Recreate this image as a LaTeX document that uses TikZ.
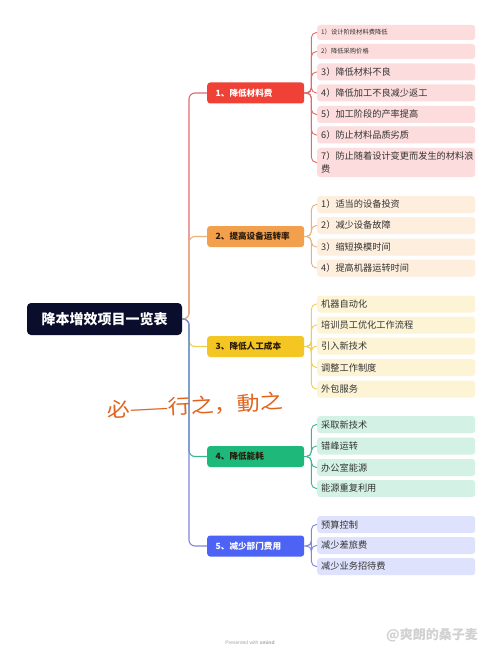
\documentclass[tikz,border=0pt]{standalone}
\usepackage{fontspec}
\setmainfont{Noto Sans CJK SC}
\newfontfamily\latin{Liberation Sans}
\definecolor{rootc}{HTML}{0B0D2C}
\definecolor{bA}{HTML}{EF4136}\definecolor{lA}{HTML}{E46A6A}\definecolor{fA}{HTML}{FCDCDC}
\definecolor{bB}{HTML}{F2A04D}\definecolor{lB}{HTML}{E9B27A}\definecolor{fB}{HTML}{FDEEDD}
\definecolor{bC}{HTML}{F3C623}\definecolor{lC}{HTML}{F0CF4A}\definecolor{fC}{HTML}{FDF4D6}
\definecolor{bD}{HTML}{1DB87A}\definecolor{lD}{HTML}{3BB88A}\definecolor{fD}{HTML}{D3F2E5}
\definecolor{bE}{HTML}{4C63F5}\definecolor{lE}{HTML}{7F86DC}\definecolor{fE}{HTML}{DFE2FC}
\definecolor{leaftext}{HTML}{333333}
\definecolor{darktext}{HTML}{2A1A0A}
\definecolor{hand}{HTML}{E0641E}
\tikzset{
  rootbox/.style={fill=rootc, text=white, rounded corners=4pt, minimum width=155pt, minimum height=32pt, font=\fontsize{14}{16}\selectfont\bfseries},
  branchbox/.style={anchor=west, rounded corners=3pt, minimum height=21pt, text width=80pt, inner xsep=8.5pt, align=left, font=\fontsize{8.6}{10}\selectfont\bfseries},
  leafbox/.style={anchor=west, rounded corners=3pt, fill=#1, minimum height=17pt, text width=150pt, inner xsep=4pt, inner ysep=1pt, align=left, text=leaftext, font=\fontsize{9.2}{12.5}\selectfont},
  smallleaf/.style={minimum height=15pt, font=\fontsize{6.3}{8}\selectfont},
  conn/.style={line width=1.1pt, rounded corners=6pt, draw=#1},
  lconn/.style={line width=0.9pt, rounded corners=5pt, draw=#1},
}
\begin{document}
\begin{tikzpicture}[x=1pt,y=-1pt]
\useasboundingbox (0,0) rectangle (500,655);
\fill[white] (0,0) rectangle (500,655);

% root and branches
\node[rootbox] (root) at (104.5,319) {降本增效项目一览表};
\coordinate (tr) at (189,319);
\node[branchbox, fill=bA, text=white] (b1) at (207,93) {1、降低材料费};
\node[branchbox, fill=bB, text=darktext] (b2) at (207,236.5) {2、提高设备运转率};
\node[branchbox, fill=bC, text=darktext] (b3) at (207,346.5) {3、降低人工成本};
\node[branchbox, fill=bD, text=darktext] (b4) at (207,456.5) {4、降低能耗};
\node[branchbox, fill=bE, text=white] (b5) at (207,546) {5、减少部门费用};

\draw[conn=lA] (root.east) -- (tr) |- (b1.west);
\draw[conn=lB] (root.east) -- (tr) |- (b2.west);
\draw[conn=lC] (root.east) -- (tr) |- (b3.west);
\draw[conn=lD] (root.east) -- (tr) |- (b4.west);
\draw[conn=lE] (root.east) -- (tr) |- (b5.west);

% branch 1 leaves
\node[leafbox=fA, smallleaf] (a1) at (317,32.5) {1）设计阶段材料费降低};
\node[leafbox=fA, smallleaf] (a2) at (317,51.5) {2）降低采购价格};
\node[leafbox=fA] (a3) at (317,72) {3）降低材料不良};
\node[leafbox=fA] (a4) at (317,93) {4）降低加工不良减少返工};
\node[leafbox=fA] (a5) at (317,114.5) {5）加工阶段的产率提高};
\node[leafbox=fA] (a6) at (317,135) {6）防止材料品质劣质};
\node[leafbox=fA, minimum height=29pt] (a7) at (317,162.5) {7）防止随着设计变更而发生的材料浪\\费};
\foreach \n in {a1,a2,a3,a4,a5,a6,a7}
  \draw[lconn=lA] (b1.east) -- ++(7,0) |- (\n.west);

% branch 2 leaves
\node[leafbox=fB] (c1) at (317,204.5) {1）适当的设备投资};
\node[leafbox=fB] (c2) at (317,225.5) {2）减少设备故障};
\node[leafbox=fB] (c3) at (317,247) {3）缩短换模时间};
\node[leafbox=fB] (c4) at (317,268) {4）提高机器运转时间};
\foreach \n in {c1,c2,c3,c4}
  \draw[lconn=lB] (b2.east) -- ++(7,0) |- (\n.west);

% branch 3 leaves
\node[leafbox=fC] (d1) at (317,304) {机器自动化};
\node[leafbox=fC] (d2) at (317,325) {培训员工优化工作流程};
\node[leafbox=fC] (d3) at (317,346) {引入新技术};
\node[leafbox=fC] (d4) at (317,367.5) {调整工作制度};
\node[leafbox=fC] (d5) at (317,389) {外包服务};
\foreach \n in {d1,d2,d3,d4,d5}
  \draw[lconn=lC] (b3.east) -- ++(7,0) |- (\n.west);

% branch 4 leaves
\node[leafbox=fD] (e1) at (317,424.5) {采取新技术};
\node[leafbox=fD] (e2) at (317,446) {错峰运转};
\node[leafbox=fD] (e3) at (317,467.5) {办公室能源};
\node[leafbox=fD] (e4) at (317,488.5) {能源重复利用};
\foreach \n in {e1,e2,e3,e4}
  \draw[lconn=lD] (b4.east) -- ++(7,0) |- (\n.west);

% branch 5 leaves
\node[leafbox=fE] (g1) at (317,524.5) {预算控制};
\node[leafbox=fE] (g2) at (317,545.5) {减少差旅费};
\node[leafbox=fE] (g3) at (317,566.5) {减少业务招待费};
\foreach \n in {g1,g2,g3}
  \draw[lconn=lE] (b5.east) -- ++(7,0) |- (\n.west);

% handwritten note
\node[text=hand, rotate=3, font=\fontsize{20}{22}\selectfont, xscale=1.15] (note) at (195,406) {必——行之，動之};

% footer
\node[text=black!35, font=\latin\fontsize{5}{6}\selectfont] (foot) at (250,643) {Presented with \textbf{xmind}};
\node[text=black!18, font=\fontsize{13}{14}\selectfont\bfseries] (wm) at (432,635) {@爽朗的桑子麦};
\end{tikzpicture}
\end{document}
